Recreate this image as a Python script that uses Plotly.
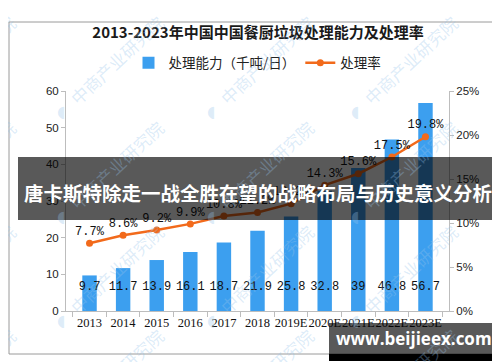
import plotly.graph_objects as go

years = ["2013", "2014", "2015", "2016", "2017", "2018", "2019E", "2020E", "2021E", "2022E", "2023E"]
capacity = [9.7, 11.7, 13.9, 16.1, 18.7, 21.9, 25.8, 32.8, 39, 46.8, 56.7]
rate = [7.7, 8.6, 9.2, 9.9, 10.8, 11.2, 12.2, 14.3, 15.6, 17.5, 19.8]

title_text = "2013-2023年中国中国餐厨垃圾处理能力及处理率"
bar_name = "处理能力（千吨/日）"
line_name = "处理率"
banner_text = "唐卡斯特除走一战全胜在望的战略布局与历史意义分析"
site_text = "www.beijieex.com"
wm_text = "中商产业研究院"

W, H = 500, 362
L, R, T, B = 58, 441, 83, 303


def px(x):
    return (x - L) / (R - L)


def py(y):
    return (B - y) / (B - T)


fig = go.Figure()
fig.add_trace(go.Bar(
    x=years, y=capacity, name=bar_name,
    marker=dict(color="#3C9FEF", line=dict(width=0)),
    texttemplate="%{y}<br><span style='font-size:5px'> </span>",
    textposition="inside", insidetextanchor="start",
    textangle=0, constraintext="none",
    insidetextfont=dict(family="Liberation Mono", size=12, color="#111"),
    cliponaxis=False,
))
fig.add_trace(go.Scatter(
    x=years, y=rate, name=line_name, yaxis="y2",
    mode="lines+markers+text",
    line=dict(color="#F26A1B", width=2.5),
    marker=dict(color="#F26A1B", size=7),
    texttemplate="%{y:.1f}%", textposition="top center",
    textfont=dict(family="Liberation Mono", size=12, color="#111"),
    cliponaxis=False,
))

shapes = []
annotations = []

# outer border
shapes.append(dict(type="rect", xref="paper", yref="paper",
                   x0=px(1), x1=px(498), y0=py(346), y1=py(14),
                   line=dict(color="#9a9a9a", width=1), layer="below"))

# faint watermarks
for wx in [-95, 53, 203, 347, 493]:
    for wy in [103, 208, 312, 416]:
        annotations.append(dict(
            xref="paper", yref="paper", x=px(wx + 55), y=py(wy - 51),
            text=wm_text, showarrow=False, textangle=-43,
            font=dict(family="Noto Sans CJK SC", size=17, color="rgba(150,195,235,0.33)"),
            xanchor="center", yanchor="middle"))
        annotations.append(dict(
            xref="paper", yref="paper", x=px(wx), y=py(wy),
            text="◖", showarrow=False,
            font=dict(family="DejaVu Sans", size=16, color="rgba(150,195,235,0.33)"),
            xanchor="center", yanchor="middle"))

# banner
shapes.append(dict(type="rect", xref="paper", yref="paper",
                   x0=px(10), x1=px(490), y0=py(212), y1=py(149),
                   fillcolor="rgba(0,0,0,0.65)", line=dict(width=0), layer="above"))
annotations.append(dict(xref="paper", yref="paper", x=px(250), y=py(184),
                        text="<b>" + banner_text + "</b>", showarrow=False,
                        font=dict(family="Noto Sans CJK SC", size=19.5, color="white"),
                        xanchor="center", yanchor="middle"))

# site box
shapes.append(dict(type="rect", xref="paper", yref="paper",
                   x0=px(321), x1=px(491), y0=py(352), y1=py(315),
                   fillcolor="rgba(0,0,0,0.65)", line=dict(width=0), layer="above"))
shapes.append(dict(type="rect", xref="paper", yref="paper",
                   x0=px(321), x1=px(491), y0=py(353), y1=py(346),
                   fillcolor="black", line=dict(width=0), layer="above"))
annotations.append(dict(xref="paper", yref="paper", x=px(406), y=py(330),
                        text="<b>" + site_text + "</b>", showarrow=False,
                        font=dict(family="Open Sans", size=17, color="white"),
                        xanchor="center", yanchor="middle"))

axis_col = "#bdbdbd"
fig.update_layout(
    width=W, height=H,
    margin=dict(l=L, r=W - R, t=T, b=H - B, pad=0),
    paper_bgcolor="white", plot_bgcolor="white",
    title=dict(text="<b>" + title_text + "</b>", x=0.5, xanchor="center", xref="container",
               y=1 - 25 / H, yanchor="middle", yref="container",
               font=dict(family="Noto Sans CJK SC", size=15, color="#1a1a1a")),
    legend=dict(orientation="h", x=0.5, xanchor="center", y=py(55), yanchor="middle",
                font=dict(family="Noto Sans CJK SC", size=13.5, color="#222"),
                bgcolor="rgba(0,0,0,0)", itemwidth=30, traceorder="normal"),
    bargap=0.57,
    showlegend=True,
    xaxis=dict(type="category", showline=True, linecolor=axis_col, linewidth=1,
               ticks="outside", tickson="boundaries", ticklen=5, tickcolor=axis_col,
               tickangle=0, showgrid=False, zeroline=False,
               tickfont=dict(family="Liberation Serif", size=12.5, color="#111")),
    yaxis=dict(range=[0, 60], dtick=10, showline=True, linecolor=axis_col, linewidth=1,
               ticks="outside", ticklen=4, tickcolor=axis_col, showgrid=False,
               zeroline=False,
               tickfont=dict(family="Liberation Sans", size=11.5, color="#222")),
    yaxis2=dict(range=[0, 25], dtick=5, overlaying="y", side="right", ticksuffix="%",
                showline=True, linecolor=axis_col, linewidth=1, ticks="outside",
                ticklen=4, tickcolor=axis_col, showgrid=False, zeroline=False,
                tickfont=dict(family="Liberation Sans", size=11.5, color="#222")),
    shapes=shapes,
    annotations=annotations,
)

fig.write_html("out.html")
